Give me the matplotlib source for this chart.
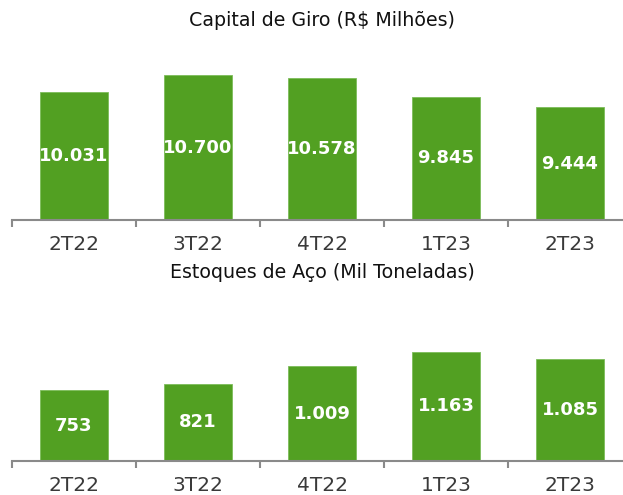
import matplotlib
matplotlib.use("Agg")
import matplotlib.pyplot as plt
import numpy as np

categories = ["2T22", "3T22", "4T22", "1T23", "2T23"]
capital_giro = [10031, 10700, 10578, 9845, 9444]
capital_labels = ["10.031", "10.700", "10.578", "9.845", "9.444"]
estoques = [753, 821, 1009, 1163, 1085]
estoques_labels = ["753", "821", "1.009", "1.163", "1.085"]
titles = ["Capital de Giro (R$ Milhões)", "Estoques de Aço (Mil Toneladas)"]

GREEN = "#52a022"
AXIS = "#8a8a8a"

fig = plt.figure(figsize=(6.23, 4.95), dpi=100)
W, H = 623, 495

def make_ax(top_px, bottom_px):
    return fig.add_axes([12 / W, 1 - bottom_px / H, 620 / W, (bottom_px - top_px) / H])

ax1 = make_ax(60, 220)
ax2 = make_ax(305, 461)

def draw(ax, vals, labels, ylim, title, title_y):
    x = np.arange(len(categories))
    ax.bar(x, vals, width=0.55, color=GREEN, edgecolor="#7cbc5a", linewidth=0.6, zorder=2)
    ax.set_ylim(*ylim)
    ax.set_xlim(-0.5, len(categories) - 0.5)
    for xi, v, lab in zip(x, vals, labels):
        ax.text(xi, (v + ylim[0]) / 2, lab, ha="center", va="center",
                color="white", fontsize=13, fontweight="bold", zorder=3)
    for s in ["top", "right", "left"]:
        ax.spines[s].set_visible(False)
    ax.spines["bottom"].set_color(AXIS)
    ax.spines["bottom"].set_linewidth(1.5)
    ax.set_yticks([])
    ax.set_xticks(x)
    ax.set_xticklabels(categories, fontsize=14.5, color="#3a3a3a")
    ax.tick_params(axis="x", which="major", length=0, pad=11)
    ax.set_xticks(np.arange(-0.5, len(categories), 1.0), minor=True)
    ax.tick_params(axis="x", which="minor", length=5, width=1.5, color=AXIS, direction="out")
    fig.text(322 / W, 1 - title_y / H, title, ha="center", va="center", fontsize=13.7, color="#111111")

draw(ax1, capital_giro, capital_labels, (5009, 11290), titles[0], 21)
draw(ax2, estoques, estoques_labels, (0, 1660), titles[1], 273)

fig.savefig("out.png", dpi=100)
